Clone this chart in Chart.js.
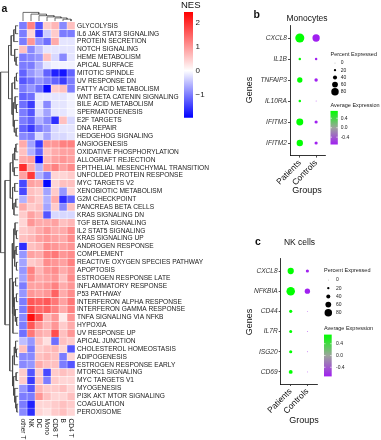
<!DOCTYPE html>
<html>
<head>
<meta charset="utf-8">
<script src="https://cdn.jsdelivr.net/npm/chart.js@4.4.1/dist/chart.umd.min.js"></script>
<style>
  body { margin: 0; background: #fff; width: 381px; height: 440px; overflow: hidden; position: relative;
         font-family: "Liberation Sans", Arial, Helvetica, sans-serif; color: #111; }
  canvas { position: absolute; }
  .t { position: absolute; white-space: nowrap; line-height: 1; }
  .bold { font-weight: bold; font-size: 10.5px; }
  .ttl { font-size: 8.5px; transform: translateX(-50%); }
  .ax { font-size: 9px; }
</style>
</head>
<body>
<canvas id="heat" width="250" height="440" style="left:0;top:0"></canvas>
<canvas id="nes" width="40" height="125" style="left:178px;top:0"></canvas>
<canvas id="mono" width="131" height="200" style="left:250px;top:0"></canvas>
<canvas id="nk" width="131" height="215" style="left:250px;top:225px"></canvas>

<div class="t bold" style="left:1.5px;top:2.8px">a</div>
<div class="t" style="left:181px;top:0.3px;font-size:9.5px">NES</div>
<div class="t bold" style="left:253.5px;top:9.4px">b</div>
<div class="t ttl" style="left:307px;top:13.9px">Monocytes</div>
<div class="t ax" style="left:248.5px;top:90px;transform:translate(-50%,-50%) rotate(-90deg)">Genes</div>
<div class="t ax" style="left:307px;top:185.5px;transform:translateX(-50%)">Groups</div>
<div class="t bold" style="left:255px;top:236.1px">c</div>
<div class="t ttl" style="left:299.5px;top:237.9px">NK cells</div>
<div class="t ax" style="left:249px;top:321.5px;transform:translate(-50%,-50%) rotate(-90deg)">Genes</div>
<div class="t ax" style="left:304px;top:416.2px;transform:translateX(-50%)">Groups</div>

<script>
// ---- heatmap data (panel a) ----
const rowLabels = [
  "GLYCOLYSIS", "IL6 JAK STAT3 SIGNALING", "PROTEIN SECRETION", "NOTCH SIGNALING", "HEME METABOLISM",
  "APICAL SURFACE", "MITOTIC SPINDLE", "UV RESPONSE DN", "FATTY ACID METABOLISM", "WNT BETA CATENIN SIGNALING",
  "BILE ACID METABOLISM", "SPERMATOGENESIS", "E2F TARGETS", "DNA REPAIR", "HEDGEHOG SIGNALING",
  "ANGIOGENESIS", "OXIDATIVE PHOSPHORYLATION", "ALLOGRAFT REJECTION", "EPITHELIAL MESENCHYMAL TRANSITION", "UNFOLDED PROTEIN RESPONSE",
  "MYC TARGETS V2", "XENOBIOTIC METABOLISM", "G2M CHECKPOINT", "PANCREAS BETA CELLS", "KRAS SIGNALING DN",
  "TGF BETA SIGNALING", "IL2 STAT5 SIGNALING", "KRAS SIGNALING UP", "ANDROGEN RESPONSE", "COMPLEMENT",
  "REACTIVE OXYGEN SPECIES PATHWAY", "APOPTOSIS", "ESTROGEN RESPONSE LATE", "INFLAMMATORY RESPONSE", "P53 PATHWAY",
  "INTERFERON ALPHA RESPONSE", "INTERFERON GAMMA RESPONSE", "TNFA SIGNALING VIA NFKB", "HYPOXIA", "UV RESPONSE UP",
  "APICAL JUNCTION", "CHOLESTEROL HOMEOSTASIS", "ADIPOGENESIS", "ESTROGEN RESPONSE EARLY", "MTORC1 SIGNALING",
  "MYC TARGETS V1", "MYOGENESIS", "PI3K AKT MTOR SIGNALING", "COAGULATION", "PEROXISOME"
];
const colLabels = ["other T", "NK", "DC", "Mono", "CD8 T", "B", "CD4 T"];

// NES per cell type, one value per row above
const nesOtherT = [-1.0,-1.0,-1.0,0.6,-1.0,-1.0,-1.2,-1.3,-1.0,-1.2, -1.1,-1.0,-1.0,-1.2,-0.9,0.8,0.6,0.8,2.0,0.9,
  -1.4,-1.4,-0.6,0.8,0.5,0.4,0.5,0.6,-1.6,-0.8, -0.7,-0.8,-0.7,-1.0,-0.8,-1.0,-1.0,-0.9,-1.0,-1.1,
  -0.5,0.6,-0.9,-0.9,0.5,0.5,-0.8,-1.0,-1.0,-0.9];
const nesNK = [1.2,0.4,1.0,-0.9,-0.9,-1.0,-0.8,-1.1,-0.8,-1.1, -1.5,-1.3,-1.2,-1.5,-1.0,-0.7,-0.6,0.9,0.8,1.9,
  0.9,0.6,0.7,0.5,0.9,1.0,0.6,0.7,0.6,0.9, 0.5,1.2,1.1,0.9,1.0,1.6,1.7,2.3,1.6,1.3,
  -0.8,-1.0,-0.9,-0.8,-1.3,-1.5,-1.3,-1.0,-1.7,-1.6];
const nesDC = [-1.3,-1.5,-0.8,-0.5,-0.8,-0.6,-0.6,-0.8,-1.1,-0.2, -0.2,-0.3,-0.6,-1.0,-0.3,-1.5,-1.2,-1.9,-0.6,-0.6,
  0.8,0.5,0.5,0.6,0.7,0.8,0.8,0.9,0.7,0.8, 0.6,0.7,0.8,0.9,0.9,1.5,1.4,1.7,1.0,0.8,
  0.6,0.5,0.6,0.8,0.5,0.6,0.7,1.0,0.4,0.4];
const nesMono = [0.5,-0.4,-1.1,-0.2,0.6,-0.2,-1.2,-1.0,-1.9,-0.2, -0.9,-0.7,-0.9,-0.8,-0.7,1.0,0.6,0.7,1.0,-1.0,
  -1.9,-0.7,-0.6,-0.7,-1.3,0.8,1.0,1.0,1.1,1.2, 1.1,1.0,0.9,1.0,1.0,1.6,1.5,0.7,0.7,0.7,
  0.3,0.6,0.7,0.6,-1.4,-1.0,0.5,0.6,0.4,0.3];
const nesCD8T = [0.7,0.5,0.8,-0.2,-0.3,-0.1,-1.7,-1.2,0.5,-0.2, -0.2,-0.2,-1.6,-0.3,-0.3,1.0,0.8,0.9,1.2,0.4,
  0.4,0.5,0.8,0.5,-0.3,0.9,0.8,0.9,1.0,1.3, 1.0,1.1,1.0,1.2,1.5,1.3,1.2,1.0,1.0,1.7,
  -1.1,0.7,0.6,0.6,0.5,0.5,0.5,0.4,0.5,0.5];
const nesB = [-0.9,-1.0,-0.2,-0.2,-0.9,-0.1,-1.8,-1.5,0.6,-0.2, -0.2,-0.2,0.6,-0.2,-0.3,1.2,0.9,1.0,0.9,0.4,
  0.6,-0.8,-1.6,-0.9,-0.3,0.6,0.8,0.8,0.9,1.0, 0.9,0.8,0.6,0.8,0.8,0.9,0.8,0.2,0.5,0.6,
  0.6,0.4,-1.0,-1.0,0.6,0.4,0.6,0.4,0.6,0.6];
const nesCD4T = [0.6,-1.0,-0.2,-0.2,-0.2,-0.1,-1.2,-1.0,-1.0,-0.1, -0.1,-0.1,-0.3,-0.2,-0.2,1.2,0.9,0.9,1.1,0.5,
  0.6,0.4,-1.2,0.6,-0.3,0.7,1.1,1.1,1.0,1.1, 1.2,1.0,1.1,1.0,1.1,1.3,1.2,1.0,0.8,1.0,
  0.5,-1.3,0.4,-1.3,0.5,0.4,0.4,0.6,0.5,0.4];
const nesColumns = [nesOtherT, nesNK, nesDC, nesMono, nesCD8T, nesB, nesCD4T];

const nesMin = -1.95, nesMax = 2.43;
const nesTicks = [-1, 0, 1, 2];

// clustering trees: [height, left, right], leaves are row / column indices
const rowTree = [10,
  [5.5,
    [4.0, [2.5, [1.5, 0, 1], 2], [2.0, 3, [1.2, 4, 5]]],
    [3.5, [2.0, [1.0, 6, 7], 8], [2.8, [1.8, 9, [1.0, 10, 11]], [2.2, 12, [1.2, 13, 14]]]]],
  [7.5,
    [4.5, [3.0, [2.0, [1.3, 15, 16], 17], [2.2, 18, 19]], [3.2, [2.0, 20, 21], [2.4, [1.4, 22, 23], 24]]],
    [4.8,
      [3.5, [2.5, [1.8, 25, [1.0, 26, 27]], [2.0, [1.2, 28, 29], [1.0, 30, 31]]],
            [3.0, [2.8, [1.5, 32, 33], [2.2, [1.0, 34, 35], [1.6, 36, [0.9, 37, 38]]]], 39]],
      [3.2, [2.2, [1.5, 40, [1.0, 41, 42]], 43], [2.6, [1.2, 44, 45], [2.0, 46, [1.4, 47, [0.8, 48, 49]]]]]]]
];
const rowTreeMax = 10;
const colTree = [1.0, 0, [0.8, 1, [0.62, 2, [0.48, 3, [0.36, 4, [0.22, 5, 6]]]]]];
const colTreeMax = 1.0;

// ---- dot plot data (panels b, c) ----
const groups = ["Patients", "Controls"];
const monoGenes = ["CXCL8", "IL1B", "TNFAIP3", "IL10RA", "IFITM3", "IFITM2"];
const monoPctPatients = [98, 22, 55, 22, 74, 67];
const monoPctControls = [78, 22, 33, 3, 30, 30];
const monoAvgPatients = [0.71, 0.71, 0.71, 0.71, 0.71, 0.71];
const monoAvgControls = [-0.71, -0.71, -0.71, -0.71, -0.71, -0.71];

const nkGenes = ["CXCL8", "NFKBIA", "CD44", "IL7R", "ISG20", "CD69"];
const nkPctPatients = [66, 92, 30, 28, 30, 38];
const nkPctControls = [30, 55, 3, 3, 3, 3];
const nkAvgPatients = [0.71, 0.71, 0.71, 0.71, 0.71, 0.71];
const nkAvgControls = [-0.71, -0.71, -0.71, -0.71, -0.71, -0.71];

const legendPcts = [0, 20, 40, 60, 80];
const avgMin = -0.71, avgMax = 0.71;
const avgTicks = [0.4, 0.0, -0.4];

Chart.defaults.font.family = '"Liberation Sans", Arial, Helvetica, sans-serif';

function nesColor(v) {
  if (v >= 0) {
    const t = Math.min(v / nesMax, 1), c = Math.round(255 * (1 - t));
    return `rgb(255,${c},${c})`;
  }
  const t = Math.min(v / nesMin, 1), c = Math.round(255 * (1 - t));
  return `rgb(${c},${c},255)`;
}

const PURPLE = [160, 32, 240], MIDGREY = [157, 164, 157], GREEN = [0, 255, 0];
function avgColor(v) {
  let t = (v - avgMin) / (avgMax - avgMin);
  t = Math.max(0, Math.min(1, t));
  const a = t < 0.5 ? PURPLE : MIDGREY, b = t < 0.5 ? MIDGREY : GREEN, u = t < 0.5 ? t * 2 : (t - 0.5) * 2;
  const c = a.map((x, i) => Math.round(x + (b[i] - x) * u));
  return `rgb(${c[0]},${c[1]},${c[2]})`;
}
function dotRadius(p) { return 0.3 + p * 0.043; }

// elbow segments of a tree, broken with NaN points
function dendroPoints(tree, toPoint) {
  const pts = [];
  function walk(node) {
    if (typeof node === "number") return { pos: node, h: 0 };
    const [h, l, r] = node;
    const a = walk(l), b = walk(r);
    pts.push(toPoint(a.h, a.pos), toPoint(h, a.pos), toPoint(h, b.pos), toPoint(b.h, b.pos), { x: NaN, y: NaN });
    return { pos: (a.pos + b.pos) / 2, h: h };
  }
  walk(tree);
  return pts;
}

// column names under the heatmap, rotated clockwise
const colLabelPlugin = {
  id: "colLabels",
  afterDraw(chart) {
    const { ctx, chartArea } = chart;
    const x = chart.scales.x;
    ctx.save();
    ctx.font = '6.6px "Liberation Sans", Arial';
    ctx.fillStyle = "#1a1a1a";
    ctx.textAlign = "left";
    ctx.textBaseline = "middle";
    colLabels.forEach((lab, i) => {
      ctx.save();
      ctx.translate(x.getPixelForValue(i + 0.5), chartArea.bottom + 2.5);
      ctx.rotate(Math.PI / 2);
      ctx.fillText(lab, 0, 0);
      ctx.restore();
    });
    ctx.restore();
  }
};

const lineStyle = { type: "line", borderColor: "#4a4a4a", borderWidth: 0.8, pointRadius: 0, tension: 0, fill: false, clip: false };

new Chart(document.getElementById("heat"), {
  type: "bar",
  data: {
    datasets: [
      ...nesColumns.map((vals, c) => ({
        type: "bar",
        indexAxis: "y",
        grouped: false,
        data: vals.map((v, r) => ({ x: [c, c + 1], y: r })),
        backgroundColor: vals.map(nesColor),
        borderColor: "rgba(255,255,255,0.85)",
        borderWidth: 0.5,
        borderSkipped: false,
        barPercentage: 1,
        categoryPercentage: 1
      })),
      Object.assign({ data: dendroPoints(rowTree, (h, p) => ({ x: -(0.1 + h / rowTreeMax * 2.2), y: p })) }, lineStyle),
      Object.assign({ data: dendroPoints(colTree, (h, p) => ({ x: p + 0.5, y: -0.6 - h / colTreeMax * 1.1 })) }, lineStyle)
    ]
  },
  options: {
    responsive: false,
    animation: false,
    layout: { padding: { top: 12, bottom: 24, left: 0, right: 0 } },
    plugins: { legend: { display: false }, tooltip: { enabled: false } },
    scales: {
      x: { type: "linear", min: -2.375, max: 7, display: false, offset: false },
      y: {
        type: "linear", min: -1.75, max: 49.5, reverse: true, position: "right", offset: false,
        afterFit: (s) => { s.width = 175; },
        afterBuildTicks: (s) => { s.ticks = rowLabels.map((_, i) => ({ value: i })); },
        grid: { display: false, drawTicks: false },
        border: { display: false },
        ticks: { autoSkip: false, padding: 2, color: "#1a1a1a", font: { size: 6.6 }, callback: (v) => rowLabels[v] }
      }
    }
  },
  plugins: [colLabelPlugin]
});

// NES colour key
new Chart(document.getElementById("nes"), {
  type: "bar",
  data: {
    labels: ["NES"],
    datasets: [{
      data: [[nesMin, nesMax]],
      backgroundColor: (c) => {
        const chart = c.chart;
        if (!chart.chartArea) return "#fff";
        const y = chart.scales.y;
        const g = chart.ctx.createLinearGradient(0, y.getPixelForValue(nesMin), 0, y.getPixelForValue(nesMax));
        g.addColorStop(0, "rgb(0,0,255)");
        g.addColorStop(-nesMin / (nesMax - nesMin), "rgb(255,255,255)");
        g.addColorStop(1, "rgb(255,0,0)");
        return g;
      },
      borderWidth: 0,
      barPercentage: 1,
      categoryPercentage: 1
    }]
  },
  options: {
    responsive: false,
    animation: false,
    layout: { padding: { left: 6, top: 12, bottom: 6, right: 0 } },
    plugins: { legend: { display: false }, tooltip: { enabled: false } },
    scales: {
      x: { display: false },
      y: {
        min: nesMin, max: nesMax, position: "right",
        afterFit: (s) => { s.width = 25; },
        afterBuildTicks: (s) => { s.ticks = nesTicks.map((v) => ({ value: v })); },
        grid: { display: false, drawTicks: false },
        border: { display: false },
        ticks: { padding: 2.5, color: "#222", font: { size: 8 }, callback: (v) => (v < 0 ? "\u2212" + (-v) : String(v)) }
      }
    }
  }
});

// size + colour legends for the dot plots
function dotLegend(L) {
  return {
    id: "dotLegend",
    afterDraw(chart) {
      const ctx = chart.ctx;
      ctx.save();
      ctx.textAlign = "left";
      ctx.textBaseline = "middle";
      ctx.fillStyle = "#1a1a1a";
      ctx.font = '5.5px "Liberation Sans", Arial';
      ctx.fillText("Percent Expressed", L.x, L.titleY);
      legendPcts.forEach((p, i) => {
        const y = L.dotY + i * L.step;
        ctx.fillStyle = "#000";
        ctx.beginPath();
        ctx.arc(L.dotX, y, dotRadius(p), 0, Math.PI * 2);
        ctx.fill();
        ctx.fillStyle = "#1a1a1a";
        ctx.font = '5px "Liberation Sans", Arial';
        ctx.fillText(String(p), L.labX, y);
      });
      ctx.font = '5.5px "Liberation Sans", Arial';
      ctx.fillText("Average Expression", L.x, L.avgY);
      const g = ctx.createLinearGradient(0, L.barTop, 0, L.barBottom);
      g.addColorStop(0, avgColor(avgMax));
      g.addColorStop(0.5, avgColor(0));
      g.addColorStop(1, avgColor(avgMin));
      ctx.fillStyle = g;
      ctx.fillRect(L.x, L.barTop, L.barW, L.barBottom - L.barTop);
      ctx.font = '5px "Liberation Sans", Arial';
      avgTicks.forEach((v) => {
        const y = L.barTop + (avgMax - v) / (avgMax - avgMin) * (L.barBottom - L.barTop);
        ctx.strokeStyle = "#fff";
        ctx.lineWidth = 0.6;
        ctx.beginPath();
        ctx.moveTo(L.x, y); ctx.lineTo(L.x + 1.5, y);
        ctx.moveTo(L.x + L.barW - 1.5, y); ctx.lineTo(L.x + L.barW, y);
        ctx.stroke();
        ctx.fillStyle = "#1a1a1a";
        ctx.fillText(v.toFixed(1), L.labX, y);
      });
      ctx.restore();
    }
  };
}

function dotChart(id, genes, pct, avg, geo, leg) {
  const axisGrid = { display: true, drawOnChartArea: false, drawTicks: true, tickLength: 2, color: "#000", lineWidth: 0.7 };
  const axisBorder = { display: true, color: "#000", width: 0.8 };
  return new Chart(document.getElementById(id), {
    type: "scatter",
    data: {
      datasets: groups.map((g, gi) => ({
        label: g,
        data: genes.map((_, i) => ({ x: gi + 1, y: i + 1 })),
        pointRadius: (c) => dotRadius(pct[gi][c.dataIndex]),
        pointBackgroundColor: (c) => avgColor(avg[gi][c.dataIndex]),
        pointBorderWidth: 0,
        clip: false
      }))
    },
    options: {
      responsive: false,
      animation: false,
      layout: { padding: { top: geo.top, right: geo.right, left: 0, bottom: 0 } },
      plugins: { legend: { display: false }, tooltip: { enabled: false } },
      scales: {
        x: {
          type: "linear", min: 0.4, max: 2.6,
          afterFit: (s) => { s.height = geo.xh; },
          afterBuildTicks: (s) => { s.ticks = groups.map((_, i) => ({ value: i + 1 })); },
          grid: axisGrid, border: axisBorder,
          ticks: { minRotation: 45, maxRotation: 45, padding: 0.5, color: "#111", font: { size: 8.5 }, callback: (v) => groups[v - 1] }
        },
        y: {
          type: "linear", min: 0.4, max: genes.length + 0.6, reverse: true,
          afterFit: (s) => { s.width = geo.yw; },
          afterBuildTicks: (s) => { s.ticks = genes.map((_, i) => ({ value: i + 1 })); },
          grid: axisGrid, border: axisBorder,
          ticks: { padding: 1, color: "#333", font: { size: 6.6, style: "italic" }, callback: (v) => genes[v - 1] }
        }
      }
    },
    plugins: [dotLegend(leg)]
  });
}

dotChart("mono", monoGenes, [monoPctPatients, monoPctControls], [monoAvgPatients, monoAvgControls],
  { top: 25.4, right: 55.1, xh: 44.4, yw: 40 },
  { x: 80.5, titleY: 54, dotX: 85, dotY: 63, step: 7.2, labX: 90.7, avgY: 105.3, barW: 7.3, barTop: 110.9, barBottom: 144.5 });

dotChart("nk", nkGenes, [nkPctPatients, nkPctControls], [nkAvgPatients, nkAvgControls],
  { top: 33.9, right: 63.6, xh: 56, yw: 30.7 },
  { x: 74, titleY: 45, dotX: 78.3, dotY: 55, step: 8.2, labX: 86, avgY: 103.3, barW: 7.7, barTop: 109.6, barBottom: 151.4 });
</script>
</body>
</html>
